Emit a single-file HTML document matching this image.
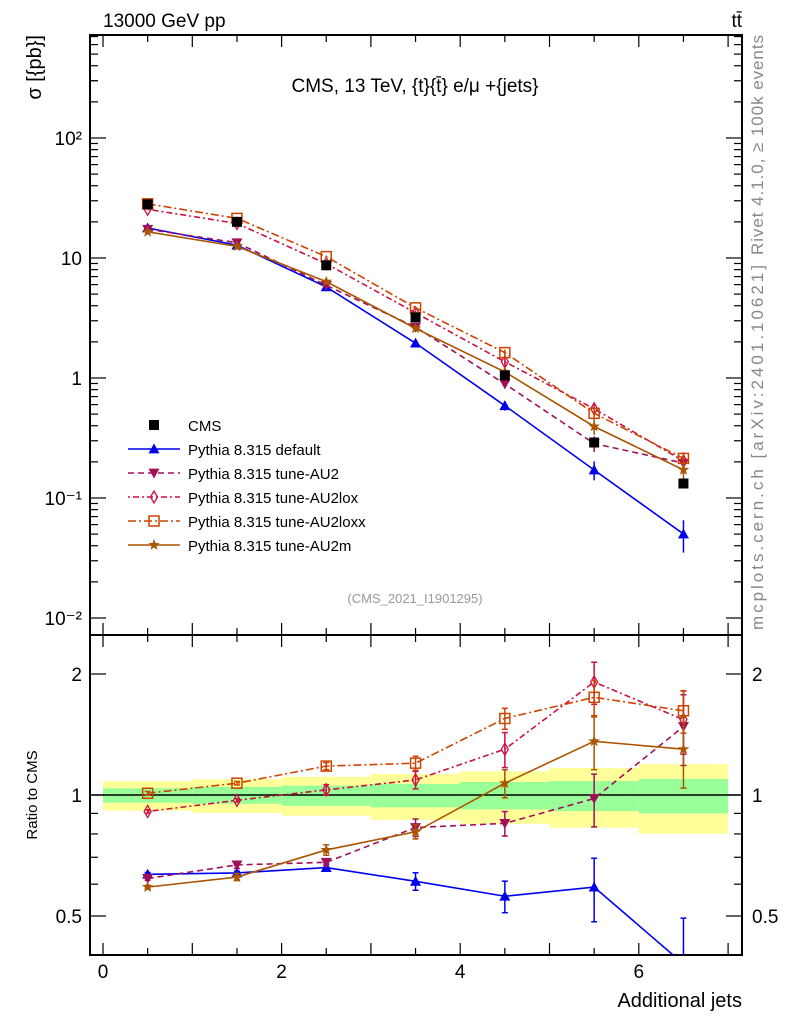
<!DOCTYPE html>
<html><head><meta charset="utf-8">
<style>
html,body{margin:0;padding:0;background:#fff;}
svg{display:block;font-family:"Liberation Sans",sans-serif;}
</style></head>
<body>
<svg id="chart" width="786" height="1024" viewBox="0 0 786 1024" xmlns="http://www.w3.org/2000/svg">
<text x="103" y="27" font-size="19">13000 GeV pp</text>
<text x="742" y="27" font-size="19" text-anchor="end">tt̄</text>
<text x="415" y="92" font-size="19" text-anchor="middle">CMS, 13 TeV, {t}{t̄} e/μ +{jets}</text>
<text transform="translate(41,35) rotate(-90)" font-size="20" text-anchor="end">σ [{pb}]</text>
<text transform="translate(37,795) rotate(-90)" font-size="15" text-anchor="middle">Ratio to CMS</text>
<text x="742" y="1007" font-size="20" text-anchor="end">Additional jets</text>
<text transform="translate(763,35) rotate(-90)" font-size="17" fill="#888" text-anchor="end" textLength="220" lengthAdjust="spacing">Rivet 4.1.0, ≥ 100k events</text>
<text transform="translate(763,630) rotate(-90)" font-size="17" fill="#888" text-anchor="start" textLength="365" lengthAdjust="spacing">mcplots.cern.ch [arXiv:2401.10621]</text>
<text x="415" y="603" font-size="13" fill="#999" text-anchor="middle">(CMS_2021_I1901295)</text>
<g id="g"></g>
</svg>
<script>
const categories=[0.5,1.5,2.5,3.5,4.5,5.5,6.5];
const cmsValues=[28,20,8.7,3.2,1.05,0.29,0.132];
const ratioDefault=[0.635,0.64,0.66,0.61,0.56,0.59,0.38];
const ratioAU2=[0.62,0.67,0.68,0.83,0.85,0.98,1.48];
const ratioAU2lox=[0.91,0.97,1.03,1.09,1.30,1.91,1.54];
const ratioAU2loxx=[1.01,1.07,1.18,1.20,1.55,1.75,1.62];
const ratioAU2m=[0.59,0.625,0.73,0.81,1.07,1.36,1.30];
const errDefault=[0.01,0.01,0.02,0.05,0.09,0.18,0.3];
const errAU2=[0.01,0.02,0.02,0.05,0.07,0.15,0.2];
const errAU2lox=[0.01,0.01,0.03,0.05,0.1,0.12,0.18];
const errAU2loxx=[0.01,0.01,0.02,0.04,0.06,0.1,0.12];
const errAU2m=[0.01,0.02,0.03,0.04,0.08,0.15,0.2];
const greenUp=[1.039,1.047,1.055,1.065,1.077,1.083,1.096];
const greenDn=[0.957,0.951,0.940,0.932,0.921,0.912,0.900];
const yellowUp=[1.083,1.094,1.110,1.128,1.145,1.167,1.194];
const yellowDn=[0.914,0.902,0.888,0.867,0.848,0.829,0.801];
const xTicks=[0,2,4,6];
const yTickLabels=["10⁻²","10⁻¹","1","10","10²"];
const yTickVals=[0.01,0.1,1,10,100];

const NS="http://www.w3.org/2000/svg";
const G=document.getElementById('g');
const L=90,R=742,T=35,M=635,B=955;
const X=v=>103+v*89.3;
const Y=v=>378-120*Math.log10(v);
const YR=v=>795-402*Math.log10(v);
function mk(tag,attrs,parent){const e=document.createElementNS(NS,tag);for(const k in attrs)e.setAttribute(k,attrs[k]);(parent||G).appendChild(e);return e;}

const defs=mk('defs',{});
const c1=mk('clipPath',{id:'cm'},defs);mk('rect',{x:L,y:T,width:R-L,height:M-T},c1);
const c2=mk('clipPath',{id:'cr'},defs);mk('rect',{x:L,y:M,width:R-L,height:B-M},c2);

const bands=mk('g',{'clip-path':'url(#cr)'});


categories.forEach((c,i)=>{
  const r1=mk('rect',{x:X(c-0.5),width:X(1)-X(0),y:YR(yellowUp[i]),height:YR(yellowDn[i])-YR(yellowUp[i]),fill:'#ffff99'},bands);
  
  
  const r2=mk('rect',{x:X(c-0.5),width:X(1)-X(0),y:YR(greenUp[i]),height:YR(greenDn[i])-YR(greenUp[i]),fill:'#99ff99'},bands);
  
  
});
const one=mk('line',{x1:L,x2:R,y1:YR(1),y2:YR(1),stroke:'#000','stroke-width':1.5});



const fr1=mk('rect',{x:L,y:T,width:R-L,height:M-T,fill:'none',stroke:'#000','stroke-width':2});


const fr2=mk('rect',{x:L,y:M,width:R-L,height:B-M,fill:'none',stroke:'#000','stroke-width':2});



for(let v=0;v<=7.01;v+=0.5){
  const maj=Math.abs(v-Math.round(v))<0.01;
  const len=maj?12:7;
  [[T,1],[M,-1],[M,1],[B,-1]].forEach(([y0,d])=>{
    mk('line',{x1:X(v),x2:X(v),y1:y0,y2:y0+d*len,stroke:'#000','stroke-width':1.2});
  });
}
xTicks.forEach(v=>{
  const t=mk('text',{x:X(v),y:978,'font-size':19,'text-anchor':'middle'});t.textContent=v;
  
  
});
for(let e=-2;e<=2;e++){
  for(let m=1;m<10;m++){
    const v=m*Math.pow(10,e);const y=Y(v);if(y<T||y>M)continue;
    const len=m===1?16:8;
    mk('line',{x1:L,x2:L+len,y1:y,y2:y,stroke:'#000','stroke-width':1.2});
    mk('line',{x1:R,x2:R-len,y1:y,y2:y,stroke:'#000','stroke-width':1.2});
  }
}
mk('line',{x1:L,x2:L+8,y1:Y(300),y2:Y(300),stroke:'#000'});
yTickVals.forEach((v,i)=>{
  const t=mk('text',{x:L-8,y:Y(v)+7,'font-size':19,'text-anchor':'end'});t.textContent=yTickLabels[i];
  
  
});
[0.4,0.5,0.6,0.7,0.8,0.9,1,2].forEach(v=>{
  const y=YR(v);const maj=(v===0.5||v===1||v===2);const len=maj?16:8;
  mk('line',{x1:L,x2:L+len,y1:y,y2:y,stroke:'#000','stroke-width':1.2});
  mk('line',{x1:R,x2:R-len,y1:y,y2:y,stroke:'#000','stroke-width':1.2});
});
[[2,'2'],[1,'1'],[0.5,'0.5']].forEach(([v,s])=>{
  const t=mk('text',{x:L-8,y:YR(v)+7,'font-size':19,'text-anchor':'end'});t.textContent=s;
  
  
  const t2=mk('text',{x:R+10,y:YR(v)+7,'font-size':19});t2.textContent=s;
  
  
});

function marker(type,x,y,col,parent){
  const s=5.5;
  if(type==='sq') return mk('rect',{x:x-5,y:y-5,width:10,height:10,fill:'#000'},parent);
  if(type==='tu') return mk('polygon',{points:`${x},${y-s} ${x-s},${y+s*0.8} ${x+s},${y+s*0.8}`,fill:col},parent);
  if(type==='td') return mk('polygon',{points:`${x},${y+s} ${x-s},${y-s*0.8} ${x+s},${y-s*0.8}`,fill:col},parent);
  if(type==='di') return mk('polygon',{points:`${x},${y-6} ${x-3.5},${y} ${x},${y+6} ${x+3.5},${y}`,fill:'none',stroke:col,'stroke-width':1.3},parent);
  if(type==='os') return mk('rect',{x:x-5,y:y-5,width:10,height:10,fill:'none',stroke:col,'stroke-width':1.5},parent);
  if(type==='st'){let p=[];for(let k=0;k<10;k++){const a=-Math.PI/2+k*Math.PI/5;const r=k%2?2.5:6;p.push((x+r*Math.cos(a)).toFixed(1)+','+(y+r*Math.sin(a)).toFixed(1));}
    return mk('polygon',{points:p.join(' '),fill:col},parent);}
}

const series=[
 {name:'default',ratio:ratioDefault,err:errDefault,col:'#0000ee',dash:'',m:'tu',label:'Pythia 8.315 default'},
 {name:'tune-au2',ratio:ratioAU2,err:errAU2,col:'#a0105a',dash:'6,4',m:'td',label:'Pythia 8.315 tune-AU2'},
 {name:'tune-au2lox',ratio:ratioAU2lox,err:errAU2lox,col:'#cc1040',dash:'2,3,6,3',m:'di',label:'Pythia 8.315 tune-AU2lox'},
 {name:'tune-au2loxx',ratio:ratioAU2loxx,err:errAU2loxx,col:'#cc4400',dash:'8,3,2,3',m:'os',label:'Pythia 8.315 tune-AU2loxx'},
 {name:'tune-au2m',ratio:ratioAU2m,err:errAU2m,col:'#aa5500',dash:'',m:'st',label:'Pythia 8.315 tune-AU2m'}
];

series.forEach(s=>{
  const vals=s.ratio.map((r,i)=>r*cmsValues[i]);
  const gm=mk('g',{'clip-path':'url(#cm)'});
  
  
  mk('polyline',{points:categories.map((c,i)=>X(c)+','+Y(vals[i])).join(' '),fill:'none',stroke:s.col,'stroke-width':1.6,'stroke-dasharray':s.dash},gm);
  categories.forEach((c,i)=>{
    const e=s.err[i]*vals[i];
    mk('line',{x1:X(c),x2:X(c),y1:Y(vals[i]+e),y2:Y(Math.max(vals[i]-e,1e-4)),stroke:s.col,'stroke-width':1.5},gm);
    const p=marker(s.m,X(c),Y(vals[i]),s.col,gm);
    
    
  });
  const gr=mk('g',{'clip-path':'url(#cr)'});
  
  
  mk('polyline',{points:categories.map((c,i)=>X(c)+','+YR(s.ratio[i])).join(' '),fill:'none',stroke:s.col,'stroke-width':1.6,'stroke-dasharray':s.dash},gr);
  categories.forEach((c,i)=>{
    const e=s.err[i]*s.ratio[i];
    mk('line',{x1:X(c),x2:X(c),y1:YR(s.ratio[i]+e),y2:YR(s.ratio[i]-e),stroke:s.col,'stroke-width':1.5},gr);
    mk('line',{x1:X(c)-3,x2:X(c)+3,y1:YR(s.ratio[i]+e),y2:YR(s.ratio[i]+e),stroke:s.col,'stroke-width':1.5},gr);
    mk('line',{x1:X(c)-3,x2:X(c)+3,y1:YR(s.ratio[i]-e),y2:YR(s.ratio[i]-e),stroke:s.col,'stroke-width':1.5},gr);
    const p=marker(s.m,X(c),YR(s.ratio[i]),s.col,gr);
    
    
  });
});
categories.forEach((c,i)=>{
  const p=marker('sq',X(c),Y(cmsValues[i]),'#000');
  
  
});

const leg=mk('g',{});


const ly0=425;
{const e=mk('g',{},leg);
 
 
 marker('sq',154,ly0,'#000',e);
 const t=mk('text',{x:188,y:ly0+6,'font-size':15},e);t.textContent='CMS';}
series.forEach((s,k)=>{
  const y=ly0+24*(k+1);
  const e=mk('g',{},leg);
  
  
  mk('line',{x1:128,x2:180,y1:y,y2:y,stroke:s.col,'stroke-width':1.6,'stroke-dasharray':s.dash},e);
  marker(s.m,154,y,s.col,e);
  const t=mk('text',{x:188,y:y+6,'font-size':15},e);t.textContent=s.label;
});
</script>
</body></html>
